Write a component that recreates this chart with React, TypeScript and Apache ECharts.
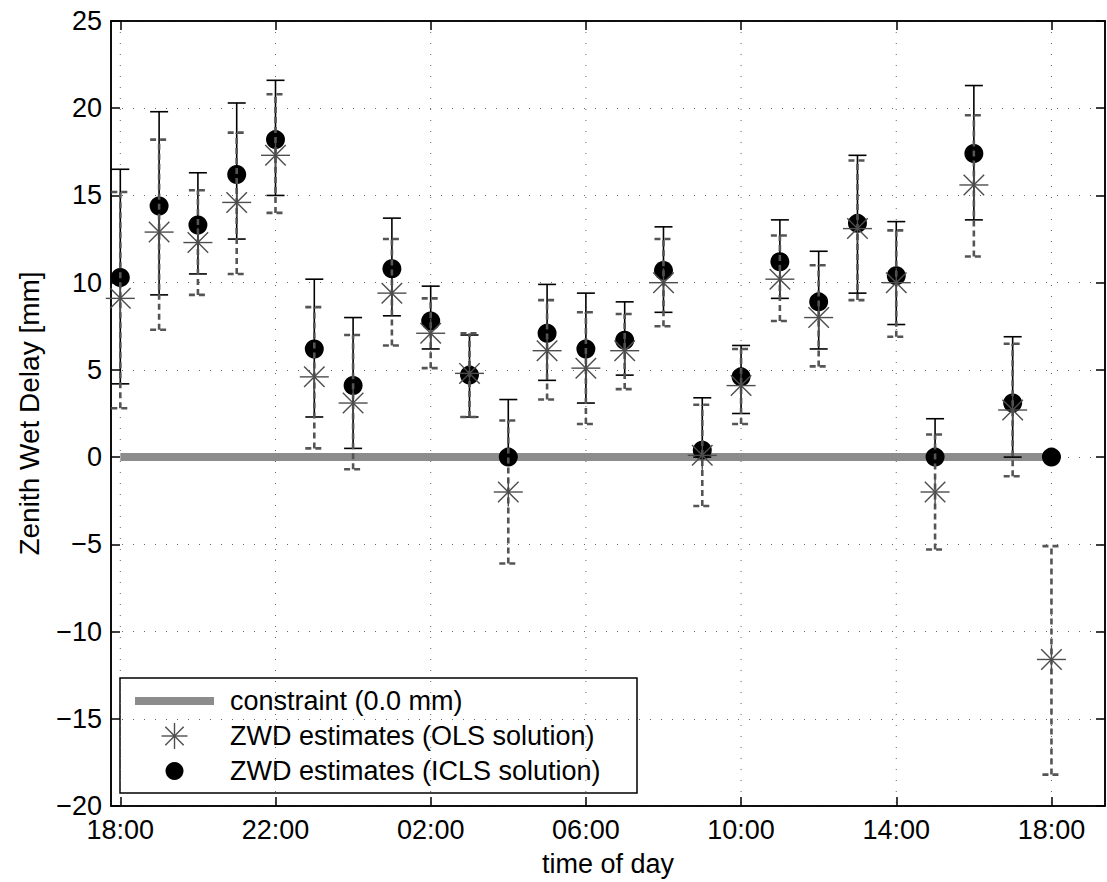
import React, { useEffect, useRef } from "react";
import * as echarts from "echarts";

// hours after 18:00 of the first day
const hours = [0, 1, 2, 3, 4, 5, 6, 7, 8, 9, 10, 11, 12, 13, 14, 15, 16, 17, 18, 19, 20, 21, 22, 23, 24];
const iclsValues = [10.3, 14.4, 13.3, 16.2, 18.2, 6.2, 4.1, 10.8, 7.8, 4.7, 0.0, 7.1, 6.2, 6.7, 10.7, 0.4, 4.6, 11.2, 8.9, 13.4, 10.4, 0.0, 17.4, 3.1, 0.0];
const olsValues = [9.1, 12.9, 12.3, 14.6, 17.3, 4.6, 3.1, 9.4, 7.1, 4.8, -2.0, 6.1, 5.1, 6.1, 10.0, 0.1, 4.1, 10.2, 8.0, 13.1, 10.0, -2.0, 15.6, 2.7, -11.6];
const iclsLow = [4.2, 9.3, 10.5, 12.5, 15.0, 2.3, 0.5, 8.1, 6.2, 2.3, 0.0, 4.4, 3.1, 4.7, 8.3, 0.0, 2.5, 9.1, 6.2, 9.4, 7.6, 0.0, 13.6, 0.0, 0.0];
const iclsHigh = [16.5, 19.8, 16.3, 20.3, 21.6, 10.2, 8.0, 13.7, 9.8, 7.0, 3.3, 9.9, 9.4, 8.9, 13.2, 3.4, 6.4, 13.6, 11.8, 17.3, 13.5, 2.2, 21.3, 6.9, 0.0];
const olsLow = [2.8, 7.3, 9.3, 10.5, 14.0, 0.5, -0.7, 6.4, 5.1, 2.3, -6.1, 3.3, 1.9, 3.9, 7.5, -2.8, 1.9, 7.8, 5.2, 9.0, 6.9, -5.3, 11.5, -1.1, -18.2];
const olsHigh = [15.2, 18.2, 15.3, 18.6, 20.8, 8.6, 7.0, 12.5, 9.1, 7.1, 2.1, 9.0, 8.3, 8.2, 12.5, 3.0, 6.2, 12.7, 11.0, 17.0, 13.0, 1.3, 19.6, 6.5, -5.1];
const constraintValue = 0.0;
const xTickHours = [0, 4, 8, 12, 16, 20, 24];
const startHourOfDay = 18;
const legendLabels = ["constraint (0.0 mm)", "ZWD estimates (OLS solution)", "ZWD estimates (ICLS solution)"];

const FONT = "'Liberation Sans', Arial, Helvetica, sans-serif";
const FS = 27;
const STAR_COLOR = "#4d4d4d";
const GRID_LEFT = 111;
const GRID_TOP = 21;
const GRID_RIGHT = 2;
const GRID_BOTTOM = 75;

function fmtHour(h: number) {
  const hh = (startHourOfDay + h) % 24;
  return (hh < 10 ? "0" : "") + hh + ":00";
}

function errorBarRenderer(color: string, width: number, dash: number[] | null) {
  return (params: any, api: any) => {
    const x = api.value(0);
    const lo = api.coord([x, api.value(1)]);
    const hi = api.coord([x, api.value(2)]);
    const hw = 9;
    const style: any = { stroke: color, lineWidth: width, fill: null };
    if (dash) style.lineDash = dash;
    return {
      type: "group",
      children: [
        { type: "line", shape: { x1: lo[0], y1: lo[1], x2: hi[0], y2: hi[1] }, style },
        { type: "line", shape: { x1: hi[0] - hw, y1: hi[1], x2: hi[0] + hw, y2: hi[1] }, style },
        { type: "line", shape: { x1: lo[0] - hw, y1: lo[1], x2: lo[0] + hw, y2: lo[1] }, style },
      ],
    };
  };
}

function starLines(cx: number, cy: number, r: number, color: string, lw: number) {
  const d = r * 0.7071;
  const style = { stroke: color, lineWidth: lw, fill: null };
  return [
    { type: "line", shape: { x1: cx - r, y1: cy, x2: cx + r, y2: cy }, style },
    { type: "line", shape: { x1: cx, y1: cy - r, x2: cx, y2: cy + r }, style },
    { type: "line", shape: { x1: cx - d, y1: cy - d, x2: cx + d, y2: cy + d }, style },
    { type: "line", shape: { x1: cx - d, y1: cy + d, x2: cx + d, y2: cy - d }, style },
  ];
}

export default function App() {
  const ref = useRef<HTMLDivElement>(null);
  useEffect(() => {
    if (!ref.current) return;
    const chart = echarts.init(ref.current, null, { renderer: "svg" });

    const axisLabelStyle = { color: "#000", fontFamily: FONT, fontSize: FS };
    const lgX = 120, lgY = 678, lgW = 517, lgH = 115;
    const rowY = [701, 736, 771];
    const axisLine = { show: true, onZero: false, lineStyle: { color: "#000", width: 1.5 } };

    const option: any = {
      animation: false,
      backgroundColor: "#fff",
      grid: {
        left: GRID_LEFT, top: GRID_TOP, right: GRID_RIGHT, bottom: GRID_BOTTOM,
        show: true, borderColor: "#000", borderWidth: 1.5, backgroundColor: "transparent",
      },
      xAxis: [
        {
          type: "value", min: -0.24, max: 25.38, position: "bottom",
          name: "time of day", nameLocation: "middle", nameGap: 44,
          nameTextStyle: { color: "#000", fontFamily: FONT, fontSize: FS },
          axisLine,
          axisTick: { show: true, inside: true, length: 9, customValues: xTickHours, lineStyle: { color: "#000", width: 1.5 } },
          axisLabel: { ...axisLabelStyle, margin: 10, customValues: xTickHours, formatter: (v: number) => fmtHour(v) },
          splitLine: { show: false },
        },
        {
          type: "value", min: -0.24, max: 25.38, position: "top",
          axisLine,
          axisTick: { show: true, inside: true, length: 9, customValues: xTickHours, lineStyle: { color: "#000", width: 1.5 } },
          axisLabel: { show: false },
          splitLine: { show: false },
        },
      ],
      yAxis: [
        {
          type: "value", min: -20, max: 25, interval: 5, position: "left",
          name: "Zenith Wet Delay [mm]", nameLocation: "middle", nameGap: 68, nameRotate: 90,
          nameTextStyle: { color: "#000", fontFamily: FONT, fontSize: 28 },
          axisLine,
          axisTick: { show: true, inside: true, length: 9, lineStyle: { color: "#000", width: 1.5 } },
          axisLabel: { ...axisLabelStyle, margin: 9, formatter: (v: number) => String(v).replace("-", "\u2212") },
          splitLine: { show: true, lineStyle: { color: "#666", width: 1, type: [1, 10] } },
        },
        {
          type: "value", min: -20, max: 25, interval: 5, position: "right",
          axisLine,
          axisTick: { show: true, inside: true, length: 9, lineStyle: { color: "#000", width: 1.5 } },
          axisLabel: { show: false },
          splitLine: { show: false },
        },
      ],
      series: [
        {
          name: "vgrid", type: "custom", z: 0, silent: true,
          data: xTickHours.map((h) => [h]),
          encode: { x: 0 },
          renderItem: (params: any, api: any) => {
            const h = api.value(0);
            const a = api.coord([h, 25]);
            const b = api.coord([h, -20]);
            return { type: "line", shape: { x1: a[0], y1: a[1], x2: b[0], y2: b[1] }, style: { stroke: "#666", lineWidth: 1, lineDash: [1, 10] } };
          },
        },
        {
          name: legendLabels[0], type: "line", z: 1, symbol: "none", silent: true,
          data: [[hours[0], constraintValue], [hours[hours.length - 1], constraintValue]],
          lineStyle: { color: "#8c8c8c", width: 8 },
        },
        {
          name: "ICLS error", type: "custom", z: 2, silent: true,
          data: hours.map((h, i) => [h, iclsLow[i], iclsHigh[i]]),
          encode: { x: 0, y: [1, 2] },
          renderItem: errorBarRenderer("#000", 1.6, null),
        },
        {
          name: legendLabels[2], type: "scatter", z: 3, silent: true,
          symbol: "circle", symbolSize: 19,
          itemStyle: { color: "#000", opacity: 1 },
          data: hours.map((h, i) => [h, iclsValues[i]]),
        },
        {
          name: "OLS error", type: "custom", z: 4, silent: true,
          data: hours.map((h, i) => [h, olsLow[i], olsHigh[i]]),
          encode: { x: 0, y: [1, 2] },
          renderItem: errorBarRenderer("#555", 2.6, [6, 4]),
        },
        {
          name: legendLabels[1], type: "custom", z: 5, silent: true,
          data: hours.map((h, i) => [h, olsValues[i]]),
          encode: { x: 0, y: 1 },
          renderItem: (params: any, api: any) => {
            const p = api.coord([api.value(0), api.value(1)]);
            return { type: "group", children: starLines(p[0], p[1], 14.5, STAR_COLOR, 1.4) };
          },
        },
      ],
      graphic: [
        {
          type: "group", z: 100,
          children: [
            { type: "rect", shape: { x: lgX, y: lgY, width: lgW, height: lgH }, style: { fill: "#fff", stroke: "#000", lineWidth: 1.5 } },
            { type: "line", shape: { x1: 135, y1: rowY[0], x2: 214, y2: rowY[0] }, style: { stroke: "#8c8c8c", lineWidth: 8 } },
            ...starLines(174.5, rowY[1], 13, STAR_COLOR, 1.4),
            { type: "circle", shape: { cx: 174.5, cy: rowY[2], r: 9 }, style: { fill: "#000" } },
            ...legendLabels.map((t, i) => ({
              type: "text", x: 230, y: rowY[i],
              style: { text: t, fill: "#000", font: `${FS}px ${FONT}`, verticalAlign: "middle", align: "left" },
            })),
          ],
        },
      ],
    };
    chart.setOption(option);
    return () => chart.dispose();
  }, []);
  return <div ref={ref} style={{ position: "fixed", left: 0, top: 0, width: 1107, height: 882, background: "#fff" }} />;
}
